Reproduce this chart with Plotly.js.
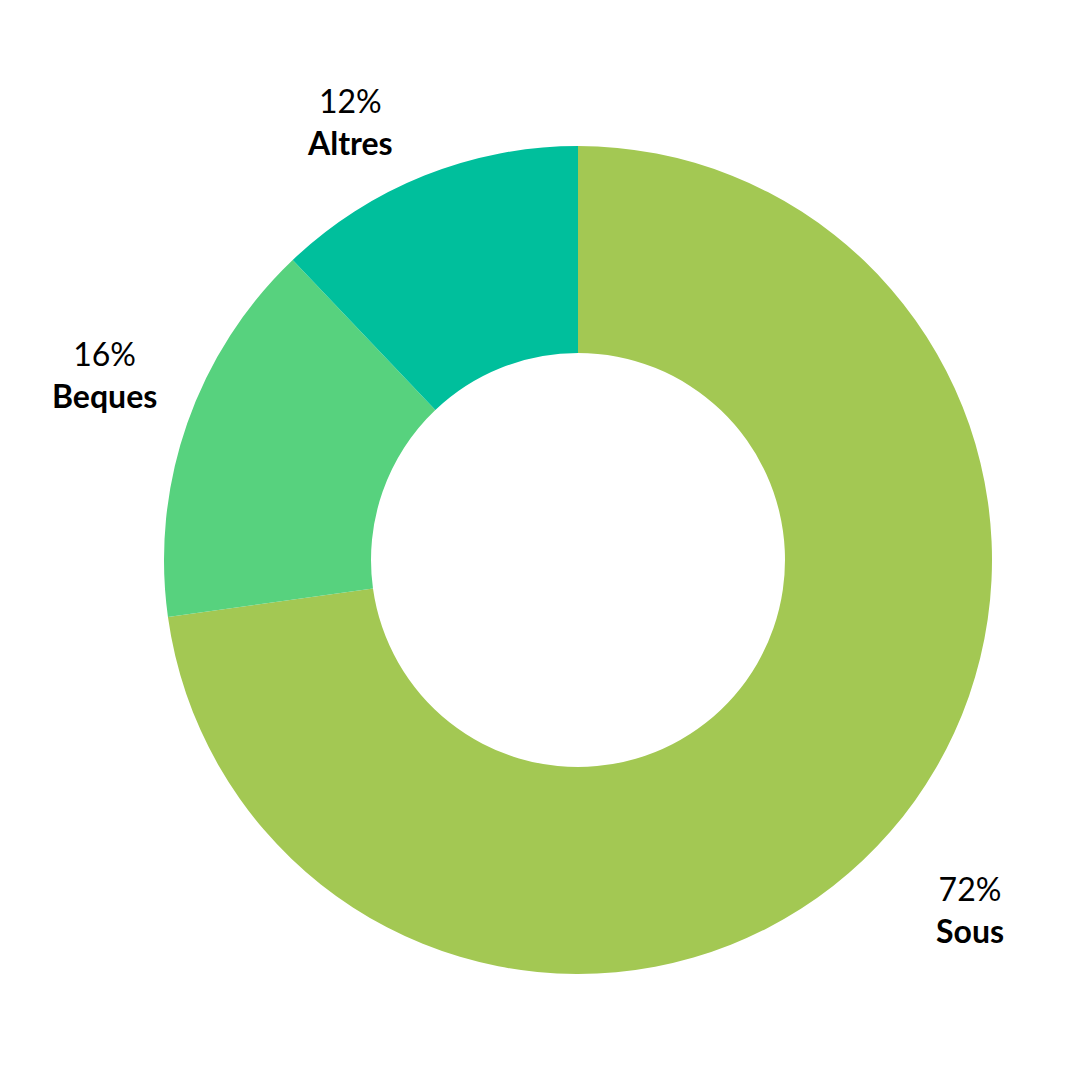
<!DOCTYPE html>
<html>
<head>
<meta charset="utf-8">
<script src="https://cdn.plot.ly/plotly-3.0.1.min.js"></script>
<style>html,body{margin:0;padding:0;background:#fff;}#chart{width:1080px;height:1080px;}</style>
</head>
<body>
<div id="chart"></div>
<script>
const categories = ["Sous", "Beques", "Altres"];
const values = [72.8, 15.1, 12.1];
// percentage labels as printed on the chart
const percentLabels = ["72%", "16%", "12%"];
const colors = ["#A3C853", "#57D27E", "#00BF9C"];
// label anchor positions (paper coords)
const labelX = [0.9734, -0.0713, 0.2246];
const labelY = [0.0785, 0.7246, 1.029];

const annotations = categories.map((c, i) => ({
  xref: "paper", yref: "paper",
  x: labelX[i], y: labelY[i],
  xanchor: "center", yanchor: "middle",
  showarrow: false,
  text: percentLabels[i] + "<br><b>" + c + "</b>",
  font: {family: "Lato, 'Noto Sans', sans-serif", size: 32, color: "#000"}
}));

const trace = {
  type: "pie",
  labels: categories,
  values: values,
  hole: 0.5,
  sort: false,
  direction: "clockwise",
  rotation: 0,
  marker: {colors: colors, line: {width: 0}},
  textinfo: "none",
  hoverinfo: "label",
  showlegend: false
};

const layout = {
  width: 1080, height: 1080,
  margin: {l: 164, r: 88, t: 146, b: 106},
  paper_bgcolor: "#fff",
  plot_bgcolor: "#fff",
  showlegend: false,
  annotations: annotations
};

Plotly.newPlot("chart", [trace], layout, {displayModeBar: false, staticPlot: true});
</script>
</body>
</html>
